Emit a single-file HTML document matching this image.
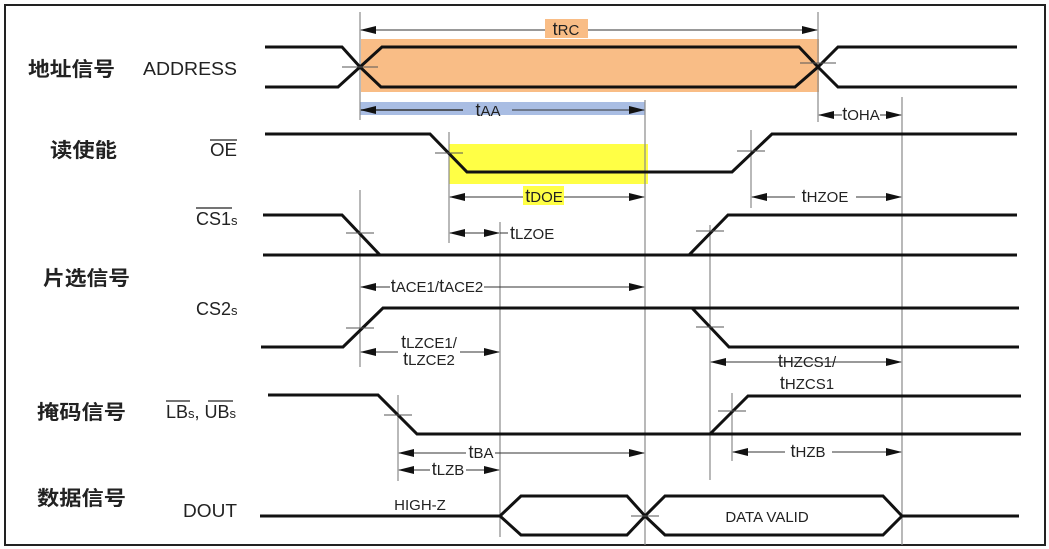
<!DOCTYPE html>
<html><head><meta charset="utf-8"><style>
html,body{margin:0;padding:0;background:#fff;}
svg{display:block;}
.sig{fill:none;stroke:#111;stroke-width:3;stroke-linejoin:miter;}
.v{stroke:#8a8a8a;stroke-width:1.2;}
.a{stroke:#333;stroke-width:1;}
.m{stroke:#555;stroke-width:1;}
text{font-family:"Liberation Sans",sans-serif;fill:#222;}
.cn{font-family:"Liberation Sans","Noto Sans CJK SC",sans-serif;font-size:20px;font-weight:bold;fill:#222;}
.lb{font-size:18px;}
.t{font-size:15px;}
</style></head><body>
<svg width="1049" height="549" viewBox="0 0 1049 549" xmlns="http://www.w3.org/2000/svg">
<defs>
<marker id="ah" markerWidth="16" markerHeight="8" refX="15" refY="4" orient="auto" markerUnits="userSpaceOnUse">
<path d="M0,0 L16,4 L0,8 Z" fill="#111"/></marker>
<marker id="at" markerWidth="16" markerHeight="8" refX="1" refY="4" orient="auto" markerUnits="userSpaceOnUse">
<path d="M16,0 L0,4 L16,8 Z" fill="#111"/></marker>
</defs>
<rect x="5" y="5" width="1040" height="540" fill="#fff" stroke="#222" stroke-width="2"/>

<rect x="361" y="39" width="458" height="53" fill="#f9bd86"/>
<rect x="360" y="102" width="285" height="13" fill="#a9bde3"/>
<rect x="449" y="144" width="199" height="40" fill="#ffff45"/>
<rect x="545" y="19" width="43" height="19" fill="#f9bd86"/>
<rect x="523" y="186" width="41" height="19" fill="#ffff45"/>

<line class="v" x1="360" y1="12" x2="360" y2="120"/>
<line class="v" x1="818" y1="12" x2="818" y2="122"/>
<line class="v" x1="645" y1="100" x2="645" y2="545"/>
<line class="v" x1="902" y1="97" x2="902" y2="545"/>
<line class="v" x1="449" y1="132" x2="449" y2="243"/>
<line class="v" x1="751" y1="130" x2="751" y2="208"/>
<line class="v" x1="500" y1="222" x2="500" y2="537"/>
<line class="v" x1="360" y1="190" x2="360" y2="367"/>
<line class="v" x1="710" y1="225" x2="710" y2="480"/>
<line class="v" x1="398" y1="395" x2="398" y2="481"/>
<line class="v" x1="732" y1="393" x2="732" y2="461"/>

<polyline class="sig" points="265,47 342,47 360,67 381,87 795,87 818,67 838,47 1017,47"/>
<polyline class="sig" points="265,87 338,87 360,67 382,47 799,47 818,67 838,87 1017,87"/>
<polyline class="sig" points="265,134 430,134 467,172 732,172 772,134 1017,134"/>
<polyline class="sig" points="263,215 342,215 380,255 1017,255"/>
<polyline class="sig" points="263,255 689,255 728,215 1017,215"/>
<polyline class="sig" points="261,347 343,347 383,308 1019,308"/>
<polyline class="sig" points="692,308 729,347 1019,347"/>
<polyline class="sig" points="268,395 378,395 417,434 1021,434"/>
<polyline class="sig" points="710,434 748,396 1021,396"/>
<polyline class="sig" points="260,516 500,516 521,496 627,496 645,516 665,496 883,496 902,516 1019,516"/>
<polyline class="sig" points="500,516 521,535 627,535 645,516 665,535 883,535 902,516"/>

<line class="m" x1="342" y1="67" x2="378" y2="67"/>
<line class="m" x1="800" y1="63" x2="836" y2="63"/>
<line class="m" x1="435" y1="153" x2="463" y2="153"/>
<line class="m" x1="737" y1="151" x2="765" y2="151"/>
<line class="m" x1="346" y1="233" x2="374" y2="233"/>
<line class="m" x1="696" y1="231" x2="724" y2="231"/>
<line class="m" x1="346" y1="328" x2="374" y2="328"/>
<line class="m" x1="696" y1="327" x2="724" y2="327"/>
<line class="m" x1="384" y1="415" x2="412" y2="415"/>
<line class="m" x1="718" y1="411" x2="746" y2="411"/>
<line class="m" x1="631" y1="516" x2="659" y2="516"/>

<line class="a" x1="361" y1="30" x2="545" y2="30" marker-start="url(#at)"/>
<line class="a" x1="588" y1="30" x2="817" y2="30" marker-end="url(#ah)"/>
<line class="a" x1="361" y1="110" x2="463" y2="110" marker-start="url(#at)" style="stroke-width:1.5"/>
<line class="a" x1="512" y1="110" x2="644" y2="110" marker-end="url(#ah)"/>
<line class="a" x1="819" y1="115" x2="842" y2="115" marker-start="url(#at)"/>
<line class="a" x1="880" y1="115" x2="901" y2="115" marker-end="url(#ah)"/>
<line class="a" x1="450" y1="197" x2="523" y2="197" marker-start="url(#at)"/>
<line class="a" x1="564" y1="197" x2="644" y2="197" marker-end="url(#ah)"/>
<line class="a" x1="752" y1="197" x2="795" y2="197" marker-start="url(#at)"/>
<line class="a" x1="856" y1="197" x2="901" y2="197" marker-end="url(#ah)"/>
<line class="a" x1="450" y1="233" x2="499" y2="233" marker-start="url(#at)" marker-end="url(#ah)"/>
<line class="a" x1="500" y1="233" x2="508" y2="233"/>
<line class="a" x1="361" y1="287" x2="390" y2="287" marker-start="url(#at)"/>
<line class="a" x1="484" y1="287" x2="644" y2="287" marker-end="url(#ah)"/>
<line class="a" x1="361" y1="352" x2="398" y2="352" marker-start="url(#at)"/>
<line class="a" x1="460" y1="352" x2="499" y2="352" marker-end="url(#ah)"/>
<line class="a" x1="711" y1="362" x2="901" y2="362" marker-start="url(#at)" marker-end="url(#ah)"/>
<line class="a" x1="399" y1="453" x2="466" y2="453" marker-start="url(#at)"/>
<line class="a" x1="495" y1="453" x2="644" y2="453" marker-end="url(#ah)"/>
<line class="a" x1="399" y1="470" x2="430" y2="470" marker-start="url(#at)"/>
<line class="a" x1="466" y1="470" x2="499" y2="470" marker-end="url(#ah)"/>
<line class="a" x1="733" y1="452" x2="785" y2="452" marker-start="url(#at)"/>
<line class="a" x1="832" y1="452" x2="901" y2="452" marker-end="url(#ah)"/>

<g class="t">
<text x="566" y="35" text-anchor="middle"><tspan font-size="18">t</tspan>RC</text>
<text x="488" y="116" text-anchor="middle"><tspan font-size="18">t</tspan>AA</text>
<text x="861" y="120" text-anchor="middle"><tspan font-size="18">t</tspan>OHA</text>
<text x="544" y="202" text-anchor="middle"><tspan font-size="18">t</tspan>DOE</text>
<text x="825" y="202" text-anchor="middle"><tspan font-size="18">t</tspan>HZOE</text>
<text x="510" y="239"><tspan font-size="18">t</tspan>LZOE</text>
<text x="437" y="292" text-anchor="middle"><tspan font-size="18">t</tspan>ACE1/<tspan font-size="18">t</tspan>ACE2</text>
<text x="429" y="348" text-anchor="middle"><tspan font-size="18">t</tspan>LZCE1/</text>
<text x="429" y="365" text-anchor="middle"><tspan font-size="18">t</tspan>LZCE2</text>
<text x="807" y="367" text-anchor="middle"><tspan font-size="18">t</tspan>HZCS1/</text>
<text x="807" y="389" text-anchor="middle"><tspan font-size="18">t</tspan>HZCS1</text>
<text x="481" y="458" text-anchor="middle"><tspan font-size="18">t</tspan>BA</text>
<text x="448" y="475" text-anchor="middle"><tspan font-size="18">t</tspan>LZB</text>
<text x="808" y="457" text-anchor="middle"><tspan font-size="18">t</tspan>HZB</text>
<text x="420" y="510" text-anchor="middle">HIGH-Z</text>
<text x="767" y="522" text-anchor="middle">DATA VALID</text>
</g>

<text class="cn" x="28" y="76" textLength="87" lengthAdjust="spacingAndGlyphs">地址信号</text>
<text class="lb" x="143" y="75" textLength="94" lengthAdjust="spacingAndGlyphs">ADDRESS</text>
<text class="cn" x="50" y="157" textLength="67" lengthAdjust="spacingAndGlyphs">读使能</text>
<text class="lb" x="210" y="156" textLength="27" lengthAdjust="spacingAndGlyphs">OE</text>
<line x1="210" y1="140" x2="237" y2="140" stroke="#222" stroke-width="1.2"/>
<text class="lb" x="196" y="225">CS1<tspan font-size="13">s</tspan></text>
<line x1="196" y1="208" x2="232" y2="208" stroke="#222" stroke-width="1.2"/>
<text class="cn" x="43" y="285" textLength="87" lengthAdjust="spacingAndGlyphs">片选信号</text>
<text class="lb" x="196" y="315">CS2<tspan font-size="13">s</tspan></text>
<text class="cn" x="37" y="419" textLength="89" lengthAdjust="spacingAndGlyphs">掩码信号</text>
<text class="lb" x="166" y="418">LB<tspan font-size="13">s</tspan>, UB<tspan font-size="13">s</tspan></text>
<line x1="166" y1="401" x2="190" y2="401" stroke="#222" stroke-width="1.2"/>
<line x1="208" y1="401" x2="233" y2="401" stroke="#222" stroke-width="1.2"/>
<text class="cn" x="37" y="505" textLength="89" lengthAdjust="spacingAndGlyphs">数据信号</text>
<text class="lb" x="183" y="517" textLength="54" lengthAdjust="spacingAndGlyphs">DOUT</text>
</svg>
</body></html>
